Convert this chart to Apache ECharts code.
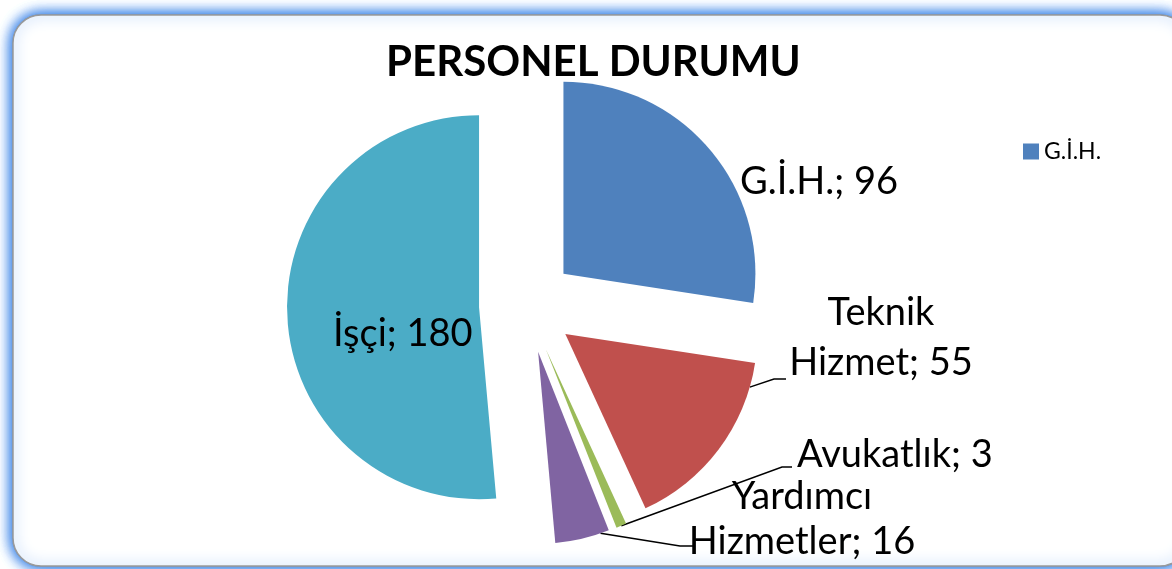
<!DOCTYPE html>
<html>
<head>
<meta charset="utf-8">
<script src="https://cdn.jsdelivr.net/npm/echarts@6/dist/echarts.min.js"></script>
<style>
  html, body { margin: 0; padding: 0; background: #fff; }
  #chart { width: 1172px; height: 569px; }
</style>
</head>
<body>
<div id="chart"></div>
<script>
  // personel sayilari
  const categories = ['G.İ.H.', 'Teknik Hizmet', 'Avukatlık', 'Yardımcı Hizmetler', 'İşçi']
  const values = [96, 55, 3, 16, 180]
  const colors = ['#4f81bd', '#c0504d', '#9bbb59', '#8064a2', '#4bacc6']
  const legendItems = ['G.İ.H.']

  const FONT = 'Lato, "Noto Sans", sans-serif'
  const CENTER = [527, 305]
  const RADIUS = 192
  const EXPLODE = 48

  // etiket yerleri (x, y, hizalama, satir yuksekligi)
  const labelPos = [
    [740, 182, 'left', 44],
    [881, 338, 'center', 50],
    [797, 455, 'left', 44],
    [802, 519, 'center', 45],
    [333, 334, 'left', 44]
  ]
  // kilavuz cizgisi: dilim yayinda baslama orani, dirsek ve bitis noktasi
  const leaders = [
    null,
    [0.13, [774, 379], [786, 379]],
    [0.5, [782, 467], [792, 467]],
    [0.16, [680, 546], [694, 546]],
    null
  ]

  const chart = echarts.init(document.getElementById('chart'))

  // her dilim ayri seri: merkez, dilimin orta acisi yonunde kaydirilir
  const total = values.reduce((a, b) => a + b, 0)
  let cum = 0
  const series = categories.map((name, i) => {
    const startA = cum / total * 360
    cum += values[i]
    const endA = cum / total * 360
    const mid = (startA + endA) / 2 * Math.PI / 180
    const cx = CENTER[0] + EXPLODE * Math.sin(mid)
    const cy = CENTER[1] - EXPLODE * Math.cos(mid)
    const data = categories.map((n, j) => {
      if (j !== i) {
        return {
          name: n,
          value: values[j],
          itemStyle: { color: 'rgba(0,0,0,0)' },
          label: { show: false },
          labelLine: { show: false }
        }
      }
      return {
        name: n,
        value: values[j],
        itemStyle: { color: colors[j] },
        label: { show: true, lineHeight: labelPos[j][3] },
        labelLine: { show: leaders[j] !== null }
      }
    })
    return {
      type: 'pie',
      center: [cx, cy],
      radius: RADIUS,
      startAngle: 90,
      avoidLabelOverlap: false,
      silent: true,
      label: {
        position: 'outside',
        fontFamily: FONT,
        fontSize: 38,
        color: '#000',
        formatter: p => p.name.replace(' ', '\n') + '; ' + p.value
      },
      labelLine: {
        length: 10,
        length2: 14,
        lineStyle: { color: '#000', width: 1.5 }
      },
      labelLayout: params => {
        const k = params.dataIndex
        const pos = labelPos[k]
        let res = {
          x: pos[0],
          y: pos[1],
          align: pos[2],
          verticalAlign: 'middle'
        }
        const ld = leaders[k]
        if (ld) {
          const a = (startA + (endA - startA) * ld[0]) * Math.PI / 180
          const anchor = [cx + RADIUS * Math.sin(a), cy - RADIUS * Math.cos(a)]
          res.labelLinePoints = [anchor, ld[1], ld[2]]
        }
        return res
      },
      emphasis: { disabled: true },
      data: data
    }
  })

  const frame = {
    type: 'rect',
    silent: true,
    shape: { x: 13, y: 15, width: 1175, height: 551, r: 28 },
    style: {
      fill: '#fff',
      stroke: '#9a9a9a',
      lineWidth: 1.5,
      shadowBlur: 14,
      shadowColor: 'rgba(55,128,232,1)'
    }
  }

  chart.setOption({
    animation: false,
    backgroundColor: '#fff',
    graphic: [
      Object.assign({}, frame, { z: -11 }),
      Object.assign({}, frame, { z: -10 })
    ],
    title: {
      text: 'PERSONEL DURUMU',
      left: 386,
      top: 41,
      padding: 0,
      textStyle: {
        fontFamily: FONT,
        fontSize: 42,
        fontWeight: 'bold',
        color: '#000'
      }
    },
    legend: {
      data: legendItems.map((n, i) => ({ name: n, itemStyle: { color: colors[i] } })),
      left: 1018,
      top: 135,
      icon: 'rect',
      itemWidth: 16,
      itemHeight: 16,
      itemGap: 6,
      selectedMode: false,
      textStyle: { fontFamily: FONT, fontSize: 23, color: '#000' }
    },
    series: series
  })
</script>
</body>
</html>
